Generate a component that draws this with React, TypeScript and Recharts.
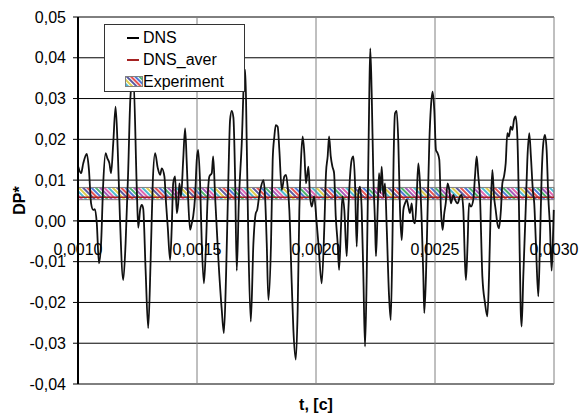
import React from "react";
import {
  LineChart,
  Line,
  XAxis,
  YAxis,
  CartesianGrid,
  ReferenceArea,
  ReferenceLine,
  ReferenceDot,
  Legend,
} from "recharts";

// time in microseconds, DP* values
const timeUs = [
  1001, 1013, 1022, 1037, 1046, 1055, 1064, 1071, 1079, 1088, 1097, 1106, 1116, 1123, 1132, 1139,
  1148, 1158, 1167, 1176, 1190, 1200, 1211, 1220, 1232, 1247, 1253, 1261, 1268, 1274, 1284, 1295,
  1305, 1314, 1324, 1335, 1345, 1352, 1363, 1370, 1377, 1387, 1394, 1400, 1408, 1415, 1421, 1426,
  1433, 1442, 1450, 1457, 1463, 1471, 1478, 1484, 1492, 1499, 1505, 1513, 1520, 1529, 1537, 1545,
  1552, 1562, 1568, 1576, 1590, 1604, 1613, 1622, 1632, 1639, 1646, 1653, 1660, 1667, 1676, 1688,
  1699, 1703, 1709, 1716, 1726, 1737, 1747, 1753, 1761, 1769, 1779, 1786, 1793, 1800, 1811, 1818,
  1825, 1831, 1839, 1846, 1856, 1867, 1874, 1881, 1888, 1898, 1905, 1915, 1923, 1930, 1937, 1944,
  1951, 1958, 1968, 1975, 1982, 1992, 2003, 2010, 2024, 2035, 2042, 2049, 2055, 2062, 2069, 2076,
  2083, 2091, 2097, 2105, 2111, 2119, 2129, 2136, 2143, 2150, 2157, 2164, 2171, 2178, 2185, 2192,
  2199, 2206, 2213, 2220, 2224, 2228, 2234, 2241, 2248, 2252, 2259, 2265, 2270, 2276, 2283, 2290,
  2297, 2307, 2314, 2321, 2326, 2332, 2339, 2346, 2353, 2360, 2367, 2374, 2381, 2388, 2395, 2402,
  2409, 2416, 2423, 2430, 2437, 2444, 2451, 2455, 2462, 2469, 2476, 2483, 2490, 2497, 2504, 2511,
  2518, 2525, 2532, 2539, 2545, 2553, 2560, 2567, 2577, 2584, 2595, 2605, 2612, 2619, 2626, 2630,
  2637, 2643, 2651, 2661, 2668, 2675, 2682, 2689, 2699, 2710, 2720, 2727, 2734, 2741, 2748, 2755,
  2762, 2769, 2777, 2783, 2790, 2797, 2804, 2811, 2818, 2825, 2832, 2839, 2846, 2853, 2860, 2864,
  2871, 2881, 2888, 2896, 2903, 2911, 2917, 2924, 2934, 2941, 2948, 2955, 2962, 2969, 2976, 2983,
  2990, 2995, 2999,
];

const dns = [
  0.0133, 0.0117, 0.0141, 0.0164, 0.0125, 0.0043, 0.0027, 0.0029, -0.0006, -0.0104, -0.0055, 0.0092, 0.0166, 0.0154, 0.0141, 0.0117,
  0.019, 0.028, 0.0174, 0.0011, -0.0145, -0.0055, 0.0125, 0.03, 0.036, 0.008, -0.0017, 0.0027, 0.0039, 0.003, -0.012, -0.0263,
  -0.01, 0.0092, 0.0166, 0.013, 0.0113, 0.0129, 0.0109, 0.0043, -0.0014, -0.0096, -0.0014, 0.0092, 0.0109, 0.0019, 0.0043, 0.0092,
  0.006, 0.015, 0.0227, 0.0141, 0.0052, -0.0022, -0.0006, 0.0011, 0.006, 0.015, 0.0174, 0.0092, -0.0055, -0.0153, -0.0071, 0.006,
  0.0109, 0.0117, 0.0158, 0.006, -0.0096, -0.0218, -0.0275, -0.0136, 0.0109, 0.0248, 0.027, 0.0253, 0.0109, -0.0122, 0.005, 0.019,
  0.0362, 0.037, 0.019, -0.0055, -0.0247, -0.0055, 0.0019, 0.0027, 0.006, 0.0084, 0.01, 0.006, -0.0055, -0.0194, -0.0055, 0.015,
  0.0207, 0.0235, 0.0231, 0.0174, 0.0076, 0.0109, 0.0113, 0.0084, 0.0027, -0.0153, -0.0267, -0.034, -0.0218, 0.0027, 0.015, 0.0207,
  0.0166, 0.0092, 0.0133, 0.006, 0.0035, 0.006, -0.0006, -0.0055, -0.0153, -0.0014, 0.0117, 0.0158, 0.0207, 0.0158, 0.0133, 0.0117,
  0.0011, -0.0055, -0.012, -0.0014, 0.006, 0.0027, -0.0087, 0.0027, 0.0109, 0.015, 0.0158, 0.0092, -0.0063, 0.0068, 0.0084, 0.0027,
  -0.0136, -0.0308, -0.0136, 0.015, 0.0313, 0.0423, 0.0313, 0.0109, -0.0006, -0.0087, 0.0027, 0.0117, 0.0068, 0.0133, 0.006, 0.0092,
  -0.0014, -0.0185, -0.0243, -0.0055, 0.015, 0.0264, 0.027, 0.0191, 0.0027, -0.0047, 0.0027, 0.0043, 0.0052, 0.0035, 0.0019, 0.0043,
  0.0002, -0.0006, 0.006, 0.0141, 0.0092, 0.0002, -0.0136, -0.0226, -0.0136, 0.0027, 0.019, 0.0281, 0.0317, 0.0272, 0.0174, 0.0166,
  0.015, 0.0027, -0.0022, 0.0019, 0.0043, 0.0092, 0.0076, 0.0043, 0.0064, 0.0052, 0.0043, 0.006, 0.0064, 0.0027, -0.0104, -0.0145,
  -0.0055, 0.0043, 0.0035, 0.0052, 0.0109, 0.0158, 0.0109, 0.006, -0.0136, -0.0201, -0.0234, -0.0136, 0.0027, 0.0125, 0.006, 0.0027,
  -0.0006, -0.0018, 0.0027, 0.0092, 0.0109, 0.0141, 0.0215, 0.0207, 0.0231, 0.0223, 0.0248, 0.0256, 0.0207, 0.0027, -0.0218, -0.0259,
  -0.0136, 0.0027, 0.015, 0.0215, 0.0158, 0.0076, 0.0043, -0.0055, -0.0185, -0.0055, 0.0109, 0.019, 0.0211, 0.0174, 0.006, -0.0014,
  -0.0122, -0.0055, 0.0027,
];

const dnsAver = 0.0058;
const expLow = 0.0052;
const expHigh = 0.0082;

const yTicks = [-0.04, -0.03, -0.02, -0.01, 0, 0.01, 0.02, 0.03, 0.04, 0.05];
const xTicks = [1000, 1500, 2000, 2500, 3000];

const HATCH = ["#e02828", "#2458d0", "#1fa048", "#8a32a8", "#d8409c", "#22a8c8", "#d4c020", "#323288"];
const FONT = '"Liberation Sans", Arial, sans-serif';

const legendItems = [
  { name: "DNS", kind: "line", color: "#000" },
  { name: "DNS_aver", kind: "line", color: "#a52222" },
  { name: "Experiment", kind: "hatch", color: "#808080" },
];

const chartData = timeUs.map((t, i) => ({ t, dns: dns[i] }));

function fmtY(v: number) {
  return v.toFixed(2).replace(".", ",");
}

function fmtX(us: number) {
  return (us / 1e6).toFixed(4).replace(".", ",");
}

function HatchPattern({ id }: { id: string }) {
  return (
    <pattern id={id} patternUnits="userSpaceOnUse" width={24} height={24} patternTransform="rotate(-45)">
      <rect width={24} height={24} fill="#fff" />
      {HATCH.map((c, i) => (
        <line key={i} x1={i * 3 + 1} y1={0} x2={i * 3 + 1} y2={24} stroke={c} strokeWidth={1.6} />
      ))}
    </pattern>
  );
}

function LegendBox() {
  return (
    <div
      style={{
        width: 141,
        height: 68,
        boxSizing: "border-box",
        border: "1px solid #333",
        background: "#fff",
        fontFamily: FONT,
        fontSize: 16,
        color: "#000",
        position: "relative",
      }}
    >
      {legendItems.map((item, i) => (
        <div key={item.name} style={{ position: "absolute", left: 0, top: 2 + i * 22, height: 22, width: "100%" }}>
          <svg width={20} height={22} style={{ position: "absolute", left: 19, top: 0 }}>
            <defs>
              <HatchPattern id={`legHatch${i}`} />
            </defs>
            {item.kind === "line" ? (
              <line x1={3} y1={11} x2={15} y2={11} stroke={item.color} strokeWidth={2} />
            ) : (
              <rect x={1.5} y={5.5} width={17} height={10} fill={`url(#legHatch${i})`} stroke={item.color} />
            )}
          </svg>
          <span style={{ position: "absolute", left: 38, top: 0, lineHeight: "22px", whiteSpace: "nowrap" }}>
            {item.name}
          </span>
        </div>
      ))}
    </div>
  );
}

export default function App() {
  return (
    <div style={{ position: "absolute", left: 0, top: 0, width: 579, height: 413, background: "#fff" }}>
      <LineChart
        width={579}
        height={413}
        data={chartData}
        margin={{ top: 17, right: 25, bottom: 0, left: 18 }}
      >
        <defs>
          <HatchPattern id="expHatch" />
        </defs>
        <CartesianGrid vertical={false} stroke="#000" strokeWidth={1} />
        {xTicks.slice(1).map((t) => (
          <ReferenceLine key={t} x={t} stroke="#808080" strokeWidth={1} />
        ))}
        <ReferenceArea y1={expLow} y2={expHigh} fill="url(#expHatch)" fillOpacity={1} stroke="#808080" strokeWidth={1} />
        <ReferenceLine y={dnsAver} stroke="#a52222" strokeWidth={1.5} />
        <ReferenceLine y={0} stroke="#000" strokeWidth={2} />
        {xTicks.map((t) => (
          <ReferenceDot
            key={`lab${t}`}
            x={t}
            y={0}
            r={0}
            fill="none"
            stroke="none"
            label={{ value: fmtX(t), position: "bottom", offset: 23, fill: "#000", fontSize: 16, fontFamily: FONT }}
          />
        ))}
        <XAxis
          dataKey="t"
          type="number"
          domain={[1000, 3000]}
          ticks={xTicks}
          tick={false}
          tickLine={false}
          axisLine={false}
          height={29}
          label={{
            value: "t, [c]",
            position: "insideBottom",
            offset: 3,
            style: { fontWeight: "bold", fontSize: 16, fill: "#000", fontFamily: FONT },
          }}
        />
        <YAxis
          type="number"
          domain={[-0.04, 0.05]}
          ticks={yTicks}
          tickFormatter={fmtY}
          width={60}
          tickSize={5}
          tickMargin={7}
          tickLine={{ stroke: "#000" }}
          axisLine={{ stroke: "#000", strokeWidth: 2 }}
          tick={{ fill: "#000", fontSize: 16, fontFamily: FONT }}
          label={{
            value: "DP*",
            angle: -90,
            position: "insideLeft",
            offset: 1,
            style: { textAnchor: "middle", fontWeight: "bold", fontSize: 16, fill: "#000", fontFamily: FONT },
          }}
        />
        <Line
          type="monotone"
          dataKey="dns"
          name="DNS"
          stroke="#111"
          strokeWidth={1.8}
          dot={false}
          isAnimationActive={false}
        />
        <Legend
          layout="horizontal"
          verticalAlign="middle"
          align="center"
          content={() => <LegendBox />}
          wrapperStyle={{ left: 104, top: 24, width: 141, height: 68 }}
        />
      </LineChart>
    </div>
  );
}
